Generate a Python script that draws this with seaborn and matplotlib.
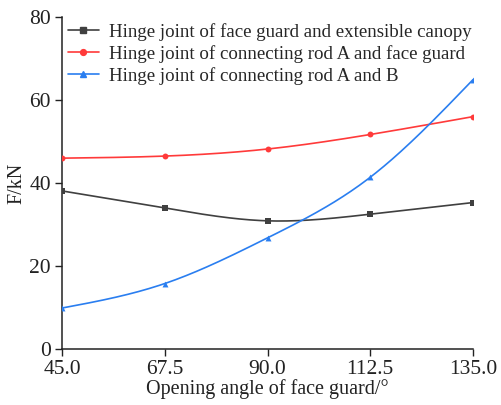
import numpy as np
import pandas as pd
import matplotlib
matplotlib.use("Agg")
import matplotlib.pyplot as plt
import seaborn as sns

angles = [45.0, 67.5, 90.0, 112.5, 135.0]
face_canopy = [38.1, 34.0, 30.9, 32.5, 35.3]
rod_a_face = [46.0, 46.5, 48.2, 51.7, 56.0]
rod_a_b = [9.9, 15.8, 26.8, 41.4, 64.9]
series_names = [
    "Hinge joint of face guard and extensible canopy",
    "Hinge joint of connecting rod A and face guard",
    "Hinge joint of connecting rod A and B",
]
colors = ["#404040", "#ff3a3a", "#2a7ef0"]
markers = ["s", "o", "^"]
xticks = [45.0, 67.5, 90.0, 112.5, 135.0]
yticks = [0, 20, 40, 60, 80]


def natural_spline(x, y, n=200):
    x = np.asarray(x, float)
    y = np.asarray(y, float)
    k = len(x)
    h = np.diff(x)
    A = np.zeros((k, k))
    b = np.zeros(k)
    A[0, 0] = A[-1, -1] = 1
    for i in range(1, k - 1):
        A[i, i - 1] = h[i - 1]
        A[i, i] = 2 * (h[i - 1] + h[i])
        A[i, i + 1] = h[i]
        b[i] = 3 * ((y[i + 1] - y[i]) / h[i] - (y[i] - y[i - 1]) / h[i - 1])
    c = np.linalg.solve(A, b)
    xs = np.linspace(x[0], x[-1], n)
    ys = np.empty_like(xs)
    for j, xv in enumerate(xs):
        i = min(np.searchsorted(x, xv, side="right") - 1, k - 2)
        dx = xv - x[i]
        bi = (y[i + 1] - y[i]) / h[i] - h[i] * (2 * c[i] + c[i + 1]) / 3
        di = (c[i + 1] - c[i]) / (3 * h[i])
        ys[j] = y[i] + bi * dx + c[i] * dx ** 2 + di * dx ** 3
    return xs, ys


sns.set_theme(style="ticks")
plt.rcParams["font.family"] = ["Liberation Serif", "DejaVu Serif"]

fig = plt.figure(figsize=(5.01, 4.05), dpi=100)
ax = fig.add_axes([0.124, 0.138, 0.820, 0.820])

for name, vals, col, mk in zip(series_names, [face_canopy, rod_a_face, rod_a_b], colors, markers):
    xs, ys = natural_spline(angles, vals)
    sns.lineplot(x=xs, y=ys, ax=ax, color=col, linewidth=1.2, legend=False)
    df = pd.DataFrame({"x": angles, "y": vals})
    sns.scatterplot(data=df, x="x", y="y", ax=ax, color=col, marker=mk, s=18,
                    edgecolor=col, linewidth=0, legend=False, zorder=3)
    ax.plot([], [], color=col, marker=mk, markersize=4.2, linewidth=1.2, label=name)

ax.set_xlim(45, 135)
ax.set_ylim(0, 80)
ax.set_xticks(xticks)
ax.set_xticklabels([f"{v:.1f}" for v in xticks])
ax.set_yticks(yticks)
ax.tick_params(direction="out", length=5, width=1, labelsize=15.5, colors="#222222")
ax.tick_params(axis="x", pad=3)
ax.tick_params(axis="y", pad=3)
for s in ["top", "right"]:
    ax.spines[s].set_visible(False)
for s in ["left", "bottom"]:
    ax.spines[s].set_color("#222222")
    ax.spines[s].set_linewidth(1.1)
ax.set_xlabel("Opening angle of face guard/°", fontsize=14.5, color="#222222", labelpad=0)
ax.set_ylabel("F/kN", fontsize=14.5, color="#222222", labelpad=2)
ax.legend(loc="upper left", frameon=False, fontsize=13.6, handlelength=1.65,
          borderaxespad=0.0, borderpad=0.3, labelspacing=0.22, handletextpad=0.55,
          bbox_to_anchor=(0.0, 1.0))

fig.savefig("out.png", dpi=100)
